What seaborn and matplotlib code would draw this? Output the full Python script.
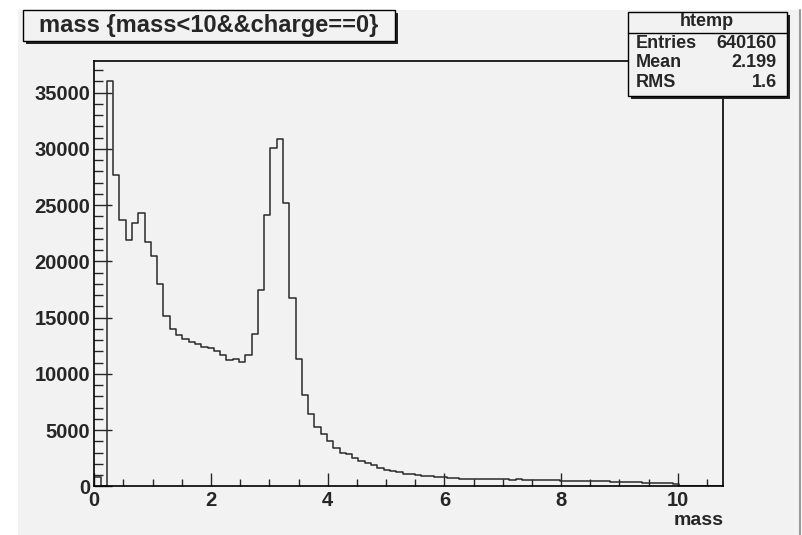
import numpy as np
import pandas as pd
import matplotlib
matplotlib.use("Agg")
import matplotlib.pyplot as plt
import seaborn as sns
from matplotlib.patches import Rectangle
from matplotlib.lines import Line2D
from matplotlib.ticker import MultipleLocator

# --- data (htemp, 100 bins) ---
X_MIN, X_MAX, N_BINS = 0.0, 10.78, 100
counts = [
    800, 0, 36000, 27680, 23675, 21880, 23373, 24263, 21700, 20472,
    17946, 15160, 13945, 13470, 13055, 12818, 12640, 12380, 12340, 12046,
    11690, 11245, 11334, 11041, 11660, 13560, 17473, 24085, 30080, 30908,
    25187, 16762, 11363, 8132, 6441, 5258, 4662, 4039, 3443, 3000,
    2900, 2553, 2287, 2050, 1872, 1664, 1500, 1380, 1250, 1100,
    1060, 1000, 930, 900, 870, 810, 760, 720, 700, 680,
    660, 640, 630, 630, 620, 615, 600, 620, 600, 580,
    570, 565, 560, 540, 515, 510, 500, 450, 445, 445,
    440, 440, 435, 430, 425, 420, 390, 340, 330, 330,
    325, 320, 190, 0, 0, 0, 0, 0, 0, 0,
]
title = "mass {mass<10&&charge==0}"
stats_name = "htemp"
stats_rows = [("Entries", "640160"), ("Mean", "2.199"), ("RMS", "1.6")]
x_label = "mass"
y_max = 37800

W, H = 802, 535
CANVAS = "#f2f2f2"

sns.set_style("ticks")
plt.rcParams["font.family"] = ["Liberation Sans", "DejaVu Sans"]
plt.rcParams["font.weight"] = "bold"


def fx(px):
    return px / W


def fy(py):
    return 1 - py / H


def shadow_box(fig, x0, y0, x1, y1, off=3):
    # ROOT style box with a dark drop shadow on right/bottom
    fig.patches.append(Rectangle((fx(x0 + off), fy(y1 + off)), fx(x1 - x0), (y1 - y0) / H,
                                 transform=fig.transFigure, facecolor="#222222",
                                 edgecolor="none", zorder=5))
    fig.patches.append(Rectangle((fx(x0), fy(y1)), fx(x1 - x0), (y1 - y0) / H,
                                 transform=fig.transFigure, facecolor=CANVAS,
                                 edgecolor="black", linewidth=1.0, zorder=6))


fig = plt.figure(figsize=(W / 100, H / 100), dpi=100, facecolor="white")
fig.patches.append(Rectangle((fx(18), 0), fx(799 - 18), (H - 10) / H,
                             transform=fig.transFigure, facecolor=CANVAS,
                             edgecolor="none", zorder=-5))
fig.lines.append(Line2D([fx(799.5), fx(799.5)], [0, fy(10)], transform=fig.transFigure,
                        color="#999999", linewidth=1.5, zorder=-4))

ax = fig.add_axes([fx(94.3), fy(486.4), fx(723.3 - 94.3), (486.4 - 61) / H])
ax.set_facecolor(CANVAS)

width = (X_MAX - X_MIN) / N_BINS
df = pd.DataFrame({"mass": X_MIN + width * (np.arange(N_BINS) + 0.5), "n": counts})
sns.histplot(data=df, x="mass", weights="n", bins=N_BINS, binrange=(X_MIN, X_MAX),
             element="step", fill=False, color="#2a2a2a", linewidth=1.1, ax=ax)

ax.set_xlim(X_MIN, X_MAX)
ax.set_ylim(0, y_max)
ax.set_ylabel("")
ax.xaxis.set_major_locator(MultipleLocator(2))
ax.xaxis.set_minor_locator(MultipleLocator(0.5))
ax.yaxis.set_major_locator(MultipleLocator(5000))
ax.yaxis.set_minor_locator(MultipleLocator(1000))
ax.tick_params(axis="x", which="major", direction="in", length=9.5, width=1, pad=3,
               labelsize=14.5)
ax.tick_params(axis="x", which="minor", direction="in", length=5, width=1)
ax.tick_params(axis="y", which="major", direction="in", length=13, width=1, pad=3,
               labelsize=14.5)
ax.tick_params(axis="y", which="minor", direction="in", length=6.5, width=1)
for lab in ax.get_xticklabels() + ax.get_yticklabels():
    lab.set_fontweight("bold")
for sp in ax.spines.values():
    sp.set_visible(True)
    sp.set_color("black")
    sp.set_linewidth(1.2)

ax.set_xlabel(x_label, loc="right", fontsize=14, fontweight="bold")
ax.xaxis.label.set_va("center")
ax.xaxis.set_label_coords(1.0, -0.079)

# title box
shadow_box(fig, 22.7, 10, 395, 40.7)
fig.text(fx(209), fy(25.5), title, ha="center", va="center", fontsize=17,
         fontweight="bold", zorder=7)

# stats box
shadow_box(fig, 628, 11.7, 786.7, 96)
fig.lines.append(Line2D([fx(628), fx(786.7)], [fy(32.7), fy(32.7)],
                        transform=fig.transFigure, color="black", linewidth=1.0, zorder=7))
fig.text(fx(707), fy(22), stats_name, ha="center", va="center", fontsize=13,
         fontweight="bold", zorder=7)
for i, (name, val) in enumerate(stats_rows):
    yy = 43.3 + i * 19.5
    fig.text(fx(636), fy(yy), name, ha="left", va="center", fontsize=13,
             fontweight="bold", zorder=7)
    fig.text(fx(777), fy(yy), val, ha="right", va="center", fontsize=13,
             fontweight="bold", zorder=7)

fig.savefig("out.png", dpi=100, facecolor="white")
